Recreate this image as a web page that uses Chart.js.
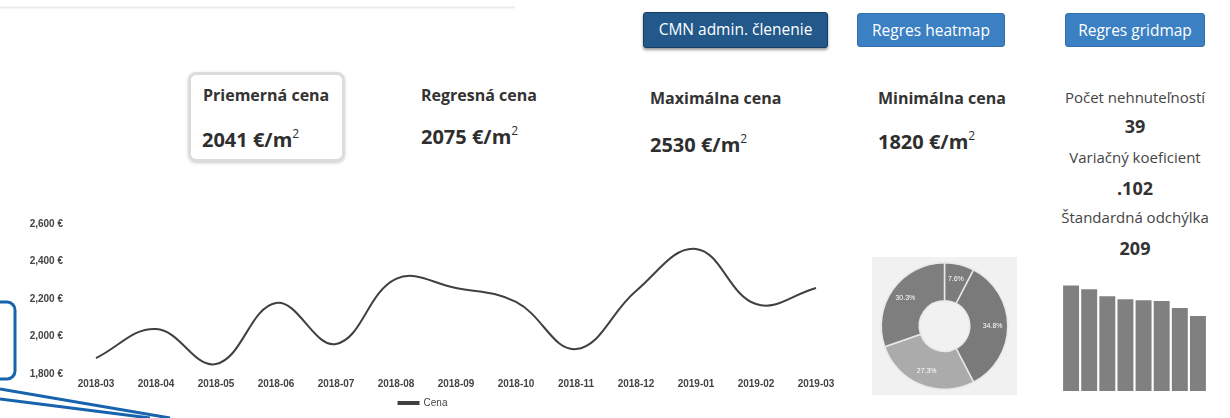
<!DOCTYPE html>
<html>
<head>
<meta charset="utf-8">
<script src="https://cdn.jsdelivr.net/npm/chart.js@4.4.1/dist/chart.umd.min.js"></script>
<style>
  html, body { margin: 0; padding: 0; background: #fff; }
  body { width: 1230px; height: 418px; position: relative; overflow: hidden;
         font-family: "Open Sans", "Noto Sans", sans-serif; color: #333; }
  .abs { position: absolute; }
  .topline { left: 0; top: 6px; width: 515px; height: 3px;
             background: linear-gradient(#fafafa, #ececec, #fafafa); }
  .btn { color: #fff; font-size: 15.5px; text-align: center; border-radius: 3px;
         box-sizing: border-box; line-height: 33px; white-space: nowrap; }
  .btn.dark { background: #22598a; border: 1px solid #163e63; box-shadow: 0 2px 3px #999; }
  .btn.light { background: #3b80c2; border: 1px solid #336fa8; }
  .ttl { font-weight: bold; font-size: 16px; line-height: 18px; white-space: nowrap; }
  .val { font-weight: bold; font-size: 20px; line-height: 24px; white-space: nowrap; color: #2e2e2e; }
  .val sup { font-size: 12px; vertical-align: 9px; line-height: 0; font-weight: normal; }
  .box { left: 188px; top: 72px; width: 157px; height: 90px; box-sizing: border-box;
         border: 3px solid #dcdcdc; border-radius: 8px; box-shadow: 0 1px 3px #ccc; }
  .rc { width: 190px; left: 1040px; text-align: center; white-space: nowrap; }
  .rc.s { font-size: 15px; line-height: 17px; color: #444; }
  .rc.b { font-size: 18px; font-weight: bold; line-height: 20px; }
  .pieBox { left: 872px; top: 257px; width: 145px; height: 138px; background: #f1f1f1; }
</style>
</head>
<body>
<div class="abs topline"></div>

<div class="abs btn dark" style="left:643px;top:12px;width:185px;height:36px;">CMN admin. členenie</div>
<div class="abs btn light" style="left:857px;top:13px;width:148px;height:34px;">Regres heatmap</div>
<div class="abs btn light" style="left:1065px;top:13px;width:140px;height:34px;">Regres gridmap</div>

<div class="abs box"></div>
<div class="abs ttl" style="left:203px;top:86px;">Priemerná cena</div>
<div class="abs val" style="left:202px;top:128px;">2041 €/m<sup>2</sup></div>
<div class="abs ttl" style="left:421px;top:86px;">Regresná cena</div>
<div class="abs val" style="left:421px;top:125px;">2075 €/m<sup>2</sup></div>
<div class="abs ttl" style="left:650px;top:89px;">Maximálna cena</div>
<div class="abs val" style="left:650px;top:133px;">2530 €/m<sup>2</sup></div>
<div class="abs ttl" style="left:878px;top:89px;">Minimálna cena</div>
<div class="abs val" style="left:878px;top:130px;">1820 €/m<sup>2</sup></div>

<div class="abs rc s" style="top:89px;">Počet nehnuteľností</div>
<div class="abs rc b" style="top:116px;">39</div>
<div class="abs rc s" style="top:149px;">Variačný koeficient</div>
<div class="abs rc b" style="top:178px;">.102</div>
<div class="abs rc s" style="top:209px;">Štandardná odchýlka</div>
<div class="abs rc b" style="top:238px;">209</div>

<div class="abs" style="left:0;top:205px;width:850px;height:213px;"><canvas id="lineChart"></canvas></div>
<div class="abs pieBox"><canvas id="pieChart"></canvas></div>
<div class="abs" style="left:1062px;top:257px;width:145px;height:134px;"><canvas id="barChart"></canvas></div>

<svg class="abs" style="left:0;top:0;" width="1230" height="418">
  <rect x="-12" y="302" width="27" height="77" rx="8" ry="8" fill="none" stroke="#1763ad" stroke-width="3"/>
  <line x1="0" y1="389" x2="170" y2="418" stroke="#1763ad" stroke-width="3"/>
  <line x1="0" y1="399" x2="150" y2="418" stroke="#1763ad" stroke-width="3"/>
</svg>

<script>
// vyvoj priemernej ceny
const months = ['2018-03', '2018-04', '2018-05', '2018-06', '2018-07', '2018-08', '2018-09',
                '2018-10', '2018-11', '2018-12', '2019-01', '2019-02', '2019-03'];
const cena = [1885, 2040, 1853, 2179, 1960, 2307, 2259, 2185, 1933, 2243, 2467, 2173, 2259];
const cenaTicks = [1800, 2000, 2200, 2400, 2600];

// podiely (donut)
const shareLabels = ['A', 'B', 'C', 'D'];
const shares = [7.6, 34.8, 27.3, 30.3];

// ceny zoradene (stlpce)
const barLabels = ['1', '2', '3', '4', '5', '6', '7', '8'];
const barValues = [2520, 2430, 2260, 2190, 2170, 2150, 1980, 1790];

const tickFont = { family: '"Liberation Sans", Arial, sans-serif', size: 10, weight: 'bold' };

new Chart(document.getElementById('lineChart'), {
    type: 'line',
    data: {
        labels: months,
        datasets: [{
            label: 'Cena',
            data: cena,
            borderColor: '#404040',
            backgroundColor: '#404040',
            borderWidth: 2,
            pointRadius: 0,
            tension: 0.4
        }]
    },
    options: {
        responsive: true,
        maintainAspectRatio: false,
        animation: false,
        layout: { padding: { top: 19, right: 4, left: 0, bottom: 0 } },
        plugins: {
            tooltip: { enabled: false },
            legend: {
                position: 'bottom',
                labels: { boxWidth: 20, boxHeight: 2, color: '#444', padding: 6,
                          font: { family: tickFont.family, size: 10 } }
            }
        },
        scales: {
            x: {
                offset: true,
                grid: { display: false, drawTicks: false },
                border: { display: false },
                afterFit: (s) => { s.height = 18; },
                ticks: { color: '#444', font: tickFont, maxRotation: 0, autoSkip: false, padding: 4 }
            },
            y: {
                min: cenaTicks[0],
                max: cenaTicks[cenaTicks.length - 1],
                afterBuildTicks: (s) => { s.ticks = cenaTicks.map(v => ({ value: v })); },
                afterFit: (s) => { s.width = 66; },
                grid: { display: false, drawTicks: false },
                border: { display: false },
                ticks: { color: '#444', font: tickFont, padding: 3,
                         callback: (v) => v.toLocaleString('en-US') + ' €' }
            }
        }
    }
});

// percenta do vyseci
const sliceLabels = {
    id: 'sliceLabels',
    afterDatasetsDraw(chart) {
        const ctx = chart.ctx;
        const meta = chart.getDatasetMeta(0);
        ctx.save();
        ctx.fillStyle = '#fff';
        ctx.font = '7px "Liberation Sans", Arial, sans-serif';
        ctx.textAlign = 'center';
        ctx.textBaseline = 'middle';
        meta.data.forEach((arc, i) => {
            const a = (arc.startAngle + arc.endAngle) / 2;
            const r = arc.innerRadius + (arc.outerRadius - arc.innerRadius) * 0.6;
            ctx.fillText(shares[i] + '%', arc.x + Math.cos(a) * r, arc.y + Math.sin(a) * r);
        });
        ctx.restore();
    }
};

new Chart(document.getElementById('pieChart'), {
    type: 'doughnut',
    data: {
        labels: shareLabels,
        datasets: [{
            data: shares,
            backgroundColor: ['#7c7c7c', '#7a7a7a', '#ababab', '#7e7e7e'],
            borderColor: '#e8e8e8',
            borderWidth: 1.5
        }]
    },
    options: {
        responsive: true,
        maintainAspectRatio: false,
        animation: false,
        cutout: '40%',
        layout: { padding: 5 },
        plugins: { legend: { display: false }, tooltip: { enabled: false } }
    },
    plugins: [sliceLabels]
});

new Chart(document.getElementById('barChart'), {
    type: 'bar',
    data: {
        labels: barLabels,
        datasets: [{
            data: barValues,
            backgroundColor: '#808080',
            categoryPercentage: 1,
            barPercentage: 0.88
        }]
    },
    options: {
        responsive: true,
        maintainAspectRatio: false,
        animation: false,
        layout: { padding: 0 },
        plugins: { legend: { display: false }, tooltip: { enabled: false } },
        scales: {
            x: { display: false },
            y: { display: false, min: 0, max: 3200 }
        }
    }
});
</script>
</body>
</html>
